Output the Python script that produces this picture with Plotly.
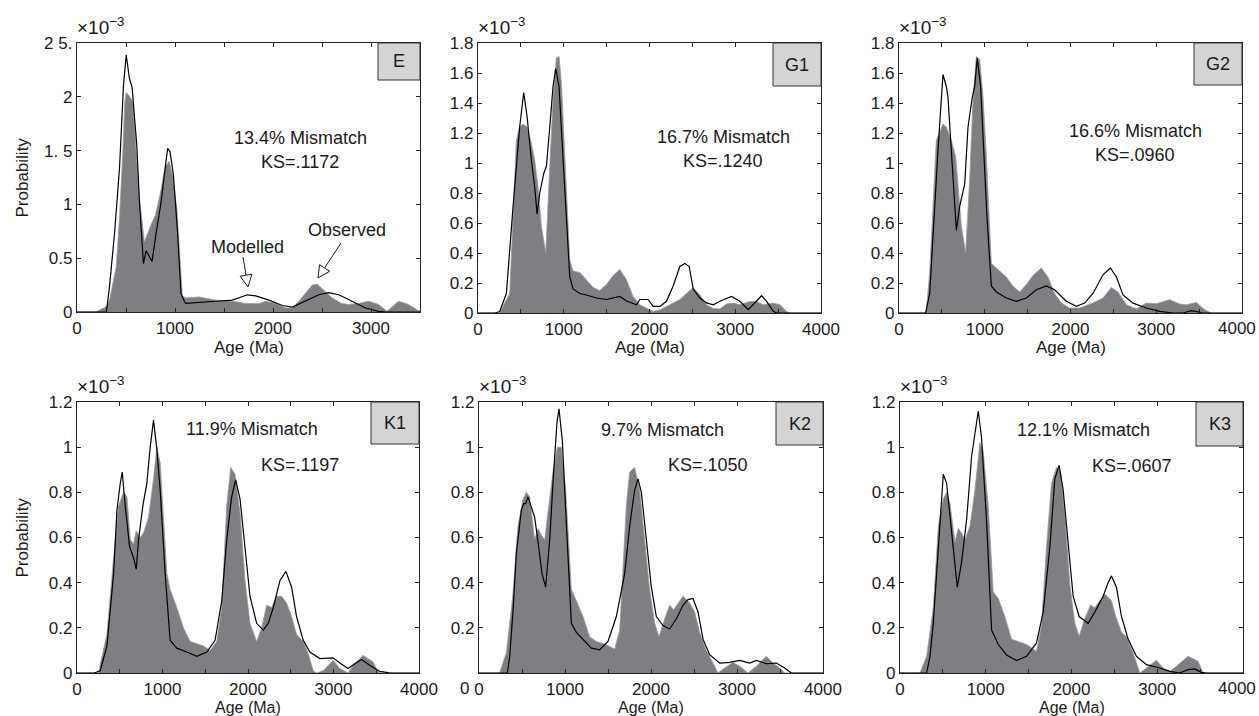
import plotly.graph_objects as go

W, H = 1259, 716

# ---------------- data (probability, x10^-3) ----------------
E_obs_age = [0, 190, 300, 332, 400, 434, 468, 488, 502, 540, 570, 603, 637, 688, 750, 800, 850, 900, 940, 980, 1020, 1050, 1075, 1111, 1247, 1417, 1586, 1722, 1858, 1925, 2027, 2129, 2197, 2264, 2332, 2400, 2451, 2519, 2603, 2700, 2773, 2875, 2976, 3078, 3163, 3281, 3383, 3468, 3500]
E_obs_p = [0, 0, 0.05, 0.11, 0.42, 0.88, 1.49, 1.95, 2.04, 2.0, 1.95, 1.55, 1.05, 0.65, 0.8, 0.9, 1.1, 1.35, 1.4, 1.25, 0.95, 0.5, 0.15, 0.13, 0.14, 0.11, 0.1, 0.08, 0.077, 0.1, 0.08, 0.037, 0.037, 0.1, 0.17, 0.25, 0.26, 0.2, 0.13, 0.08, 0.07, 0.08, 0.1, 0.07, 0.006, 0.1, 0.07, 0.02, 0.01]
E_mod_age = [0, 300, 332, 383, 434, 474, 502, 535, 562, 586, 610, 637, 678, 705, 732, 766, 807, 858, 908, 925, 949, 983, 1027, 1061, 1095, 1111, 1417, 1586, 1739, 1824, 1959, 2095, 2197, 2332, 2468, 2569, 2671, 2807, 2942, 3078, 3146, 3500]
E_mod_p = [0, 0, 0.24, 0.73, 1.34, 2.1, 2.39, 2.17, 2.09, 1.85, 1.55, 1.03, 0.45, 0.57, 0.53, 0.47, 0.73, 1.02, 1.4, 1.52, 1.49, 1.28, 0.73, 0.17, 0.1, 0.08, 0.1, 0.11, 0.16, 0.15, 0.11, 0.06, 0.046, 0.1, 0.16, 0.18, 0.16, 0.1, 0.037, 0.006, 0, 0]

G1_obs_age = [0, 250, 370, 447, 486, 525, 572, 623, 661, 700, 739, 790, 837, 875, 914, 945, 973, 1012, 1070, 1109, 1187, 1265, 1342, 1420, 1498, 1576, 1654, 1732, 1809, 1887, 1965, 2043, 2121, 2237, 2354, 2432, 2510, 2588, 2665, 2743, 2821, 2899, 2977, 3054, 3171, 3249, 3327, 3444, 3521, 3599, 3638, 4000]
G1_obs_p = [0, 0, 0.13, 1.15, 1.24, 1.26, 1.24, 1.13, 1.02, 0.84, 0.58, 0.4, 0.98, 1.42, 1.7, 1.71, 1.53, 1.09, 0.35, 0.28, 0.27, 0.22, 0.17, 0.15, 0.19, 0.25, 0.29, 0.22, 0.11, 0.055, 0.03, 0.01, 0.02, 0.055, 0.09, 0.13, 0.17, 0.12, 0.055, 0.03, 0.027, 0.06, 0.066, 0.055, 0.077, 0.077, 0.055, 0.066, 0.055, 0.01, 0, 0]
G1_mod_age = [0, 200, 253, 331, 409, 486, 533, 572, 623, 661, 689, 720, 767, 798, 837, 875, 906, 945, 984, 1031, 1070, 1109, 1187, 1265, 1381, 1498, 1654, 1732, 1848, 1887, 1984, 2043, 2121, 2198, 2276, 2354, 2412, 2463, 2510, 2588, 2665, 2743, 2821, 2957, 3054, 3152, 3210, 3307, 3366, 3444, 3482, 4000]
G1_mod_p = [0, 0, 0.01, 0.13, 0.71, 1.24, 1.47, 1.31, 1.02, 0.84, 0.66, 0.8, 0.93, 0.98, 1.24, 1.51, 1.63, 1.51, 1.11, 0.64, 0.24, 0.16, 0.13, 0.12, 0.1, 0.09, 0.11, 0.08, 0.055, 0.09, 0.09, 0.044, 0.044, 0.078, 0.18, 0.31, 0.33, 0.31, 0.16, 0.1, 0.067, 0.055, 0.078, 0.11, 0.078, 0.022, 0.055, 0.115, 0.078, 0.011, 0, 0]

G2_obs_age = [0, 300, 319, 358, 435, 513, 552, 610, 661, 688, 727, 777, 824, 863, 902, 941, 980, 1019, 1077, 1174, 1252, 1329, 1407, 1485, 1563, 1660, 1737, 1815, 1893, 1990, 2107, 2262, 2379, 2476, 2554, 2651, 2768, 2884, 3001, 3156, 3273, 3350, 3467, 3564, 3642, 4000]
G2_obs_p = [0, 0, 0.02, 0.27, 1.15, 1.26, 1.24, 1.15, 1.04, 0.84, 0.58, 0.4, 0.89, 1.42, 1.71, 1.69, 1.44, 1.04, 0.33, 0.28, 0.24, 0.18, 0.14, 0.19, 0.25, 0.3, 0.24, 0.13, 0.067, 0.033, 0.033, 0.067, 0.1, 0.17, 0.14, 0.055, 0.027, 0.066, 0.062, 0.089, 0.06, 0.055, 0.07, 0.022, 0, 0]
G2_mod_age = [0, 310, 358, 396, 455, 513, 552, 571, 610, 641, 669, 707, 766, 805, 855, 882, 913, 952, 987, 1026, 1077, 1135, 1252, 1368, 1485, 1602, 1718, 1815, 1951, 2068, 2165, 2262, 2379, 2465, 2535, 2612, 2729, 2884, 3040, 3196, 3312, 3409, 3487, 3525, 4000]
G2_mod_p = [0, 0, 0.13, 0.53, 1.09, 1.59, 1.51, 1.44, 1.09, 0.75, 0.55, 0.71, 0.86, 1.24, 1.44, 1.51, 1.7, 1.51, 1.09, 0.64, 0.18, 0.14, 0.1, 0.078, 0.1, 0.155, 0.18, 0.155, 0.078, 0.044, 0.066, 0.13, 0.255, 0.3, 0.24, 0.12, 0.066, 0.033, 0.011, 0, 0, 0.016, 0.007, 0, 0]

K1_obs_age = [0, 253, 272, 350, 428, 486, 545, 584, 623, 661, 693, 739, 778, 837, 895, 934, 973, 1012, 1051, 1089, 1167, 1245, 1323, 1401, 1479, 1556, 1634, 1693, 1751, 1798, 1848, 1907, 1965, 2023, 2101, 2160, 2218, 2276, 2335, 2393, 2451, 2510, 2568, 2646, 2704, 2763, 2802, 2879, 2996, 3074, 3171, 3230, 3346, 3463, 3521, 3560, 4000]
K1_obs_p = [0, 0, 0.04, 0.17, 0.51, 0.74, 0.8, 0.78, 0.59, 0.57, 0.63, 0.6, 0.62, 0.69, 0.86, 1.0, 0.93, 0.66, 0.44, 0.37, 0.29, 0.2, 0.14, 0.13, 0.12, 0.1, 0.14, 0.29, 0.74, 0.91, 0.88, 0.71, 0.41, 0.22, 0.14, 0.2, 0.3, 0.29, 0.34, 0.34, 0.31, 0.25, 0.17, 0.14, 0.086, 0.01, 0, 0.01, 0.056, 0.02, 0, 0.034, 0.078, 0.049, 0.004, 0, 0]
K1_mod_age = [0, 200, 272, 350, 428, 467, 506, 529, 564, 615, 661, 693, 720, 770, 817, 856, 895, 934, 973, 1031, 1089, 1167, 1284, 1401, 1518, 1615, 1693, 1751, 1809, 1856, 1907, 1965, 2023, 2101, 2179, 2237, 2296, 2374, 2444, 2510, 2568, 2646, 2724, 2840, 2996, 3074, 3171, 3249, 3327, 3424, 3541, 3619, 3658, 4000]
K1_mod_p = [0, 0, 0.01, 0.12, 0.44, 0.72, 0.84, 0.89, 0.74, 0.56, 0.51, 0.46, 0.59, 0.74, 0.84, 1.0, 1.12, 0.99, 0.81, 0.44, 0.145, 0.11, 0.093, 0.074, 0.093, 0.145, 0.32, 0.59, 0.78, 0.855, 0.77, 0.54, 0.34, 0.22, 0.19, 0.22, 0.29, 0.41, 0.45, 0.38, 0.25, 0.145, 0.093, 0.064, 0.067, 0.044, 0.02, 0.041, 0.06, 0.034, 0.007, 0.003, 0, 0]

K2_obs_age = [0, 240, 318, 395, 453, 512, 550, 589, 647, 686, 725, 764, 802, 860, 911, 957, 1008, 1074, 1132, 1209, 1287, 1364, 1481, 1578, 1636, 1674, 1713, 1752, 1810, 1868, 1926, 1984, 2043, 2093, 2159, 2217, 2264, 2314, 2372, 2450, 2508, 2566, 2643, 2721, 2779, 2857, 2953, 3031, 3128, 3225, 3341, 3419, 3496, 3554, 4000]
K2_obs_p = [0, 0, 0.09, 0.35, 0.65, 0.77, 0.8, 0.78, 0.59, 0.64, 0.61, 0.59, 0.71, 0.89, 1.0, 1.0, 0.81, 0.37, 0.32, 0.25, 0.16, 0.14, 0.125, 0.106, 0.19, 0.44, 0.74, 0.89, 0.91, 0.81, 0.59, 0.37, 0.22, 0.16, 0.24, 0.3, 0.28, 0.31, 0.34, 0.31, 0.27, 0.18, 0.1, 0.044, 0, 0.022, 0.047, 0.03, 0, 0.03, 0.074, 0.044, 0.022, 0, 0]
K2_mod_age = [0, 330, 357, 395, 434, 492, 519, 543, 570, 609, 647, 686, 733, 775, 822, 868, 907, 930, 969, 1016, 1074, 1132, 1209, 1306, 1403, 1500, 1597, 1694, 1752, 1810, 1849, 1888, 1946, 2004, 2062, 2140, 2217, 2295, 2372, 2430, 2488, 2547, 2605, 2682, 2798, 2915, 3031, 3147, 3225, 3341, 3457, 3554, 3631, 4000]
K2_mod_p = [0, 0, 0.074, 0.27, 0.53, 0.72, 0.75, 0.75, 0.78, 0.73, 0.69, 0.58, 0.44, 0.38, 0.59, 0.89, 1.11, 1.17, 1.03, 0.66, 0.22, 0.18, 0.15, 0.11, 0.103, 0.14, 0.25, 0.44, 0.65, 0.81, 0.86, 0.8, 0.59, 0.38, 0.25, 0.21, 0.195, 0.24, 0.3, 0.325, 0.33, 0.27, 0.15, 0.081, 0.044, 0.047, 0.056, 0.044, 0.056, 0.041, 0.044, 0.022, 0, 0]

K3_obs_age = [0, 233, 311, 388, 447, 505, 544, 583, 641, 680, 718, 757, 816, 874, 932, 971, 1029, 1087, 1146, 1223, 1301, 1379, 1476, 1592, 1650, 1709, 1767, 1825, 1872, 1922, 1981, 2039, 2089, 2155, 2221, 2272, 2330, 2388, 2466, 2517, 2583, 2641, 2718, 2796, 2874, 2990, 3068, 3146, 3223, 3359, 3476, 3534, 4000]
K3_obs_p = [0, 0, 0.074, 0.29, 0.65, 0.77, 0.8, 0.75, 0.58, 0.64, 0.62, 0.59, 0.65, 0.81, 1.02, 0.98, 0.74, 0.36, 0.33, 0.25, 0.15, 0.14, 0.126, 0.096, 0.21, 0.56, 0.84, 0.91, 0.89, 0.7, 0.39, 0.22, 0.163, 0.24, 0.3, 0.29, 0.32, 0.35, 0.32, 0.25, 0.18, 0.16, 0.09, 0, 0.022, 0.056, 0.022, 0.007, 0.03, 0.074, 0.052, 0, 0]
K3_mod_age = [0, 310, 350, 388, 427, 466, 505, 544, 583, 621, 668, 718, 777, 835, 874, 913, 951, 1010, 1068, 1146, 1243, 1359, 1476, 1592, 1670, 1748, 1806, 1856, 1903, 1961, 2019, 2089, 2194, 2272, 2369, 2427, 2466, 2524, 2583, 2660, 2757, 2874, 3029, 3146, 3262, 3359, 3437, 3515, 3573, 4000]
K3_mod_p = [0, 0, 0.074, 0.22, 0.44, 0.67, 0.88, 0.84, 0.7, 0.58, 0.38, 0.49, 0.68, 0.96, 1.05, 1.16, 1.04, 0.67, 0.19, 0.126, 0.08, 0.055, 0.074, 0.133, 0.27, 0.56, 0.86, 0.92, 0.81, 0.56, 0.34, 0.25, 0.22, 0.27, 0.34, 0.4, 0.43, 0.38, 0.25, 0.15, 0.074, 0.037, 0.022, 0.007, 0, 0.015, 0.018, 0.003, 0, 0]

panel_names = ["E", "G1", "G2", "K1", "K2", "K3"]
mismatch_text = ["13.4% Mismatch", "16.7% Mismatch", "16.6% Mismatch", "11.9% Mismatch", "9.7% Mismatch", "12.1% Mismatch"]
ks_text = ["KS=.1172", "KS=.1240", "KS=.0960", "KS=.1197", "KS=.1050", "KS=.0607"]
x_max = [3500, 4000, 4000, 4000, 4000, 4000]
y_max = [2.5, 1.8, 1.8, 1.2, 1.2, 1.2]
E_yticks = [0, 0.5, 1, 1.5, 2, 2.5]
E_yticktext = ["0", "0.5", "1", "1. 5", "2", "2 5."]
G_yticks = [0, 0.2, 0.4, 0.6, 0.8, 1, 1.2, 1.4, 1.6, 1.8]
K_yticks = [0, 0.2, 0.4, 0.6, 0.8, 1, 1.2]
K2_yticks = [0.2, 0.4, 0.6, 0.8, 1, 1.2]

obs = [(E_obs_age, E_obs_p), (G1_obs_age, G1_obs_p), (G2_obs_age, G2_obs_p),
       (K1_obs_age, K1_obs_p), (K2_obs_age, K2_obs_p), (K3_obs_age, K3_obs_p)]
mod = [(E_mod_age, E_mod_p), (G1_mod_age, G1_mod_p), (G2_mod_age, G2_mod_p),
       (K1_mod_age, K1_mod_p), (K2_mod_age, K2_mod_p), (K3_mod_age, K3_mod_p)]

# ---------------- layout geometry (pixels) ----------------
boxes = [(77, 420, 43, 312), (478, 821, 43, 313), (899, 1242, 43, 313),
         (77, 419, 402, 673), (479, 823, 402, 673), (900, 1243, 402, 673)]
label_boxes = [(378, 420, 43, 80), (773, 821, 43, 86), (1194, 1242, 43, 85),
               (371, 419, 402, 444), (776, 823, 402, 445), (1196, 1243, 402, 446)]
mis_pos = [(300, 138), (723, 137), (1135, 131), (252, 429), (662, 430), (1083, 430)]
ks_pos = [(300, 162), (723, 161), (1135, 155), (300, 465), (708, 465), (1132, 466)]
xtitle_y = [347, 347, 347, 707, 707, 707]
xtitle_size = [17, 17, 17, 16, 16, 16]
edge_panels = [2, 5]   # panels whose last x label touches the right page edge


def fx(px):
    return px / W


def fy(py):
    return 1 - py / H


FONT = "Liberation Sans, Arial, sans-serif"
TXT = "#1a1a1a"
fig = go.Figure()
layout = dict(width=W, height=H, margin=dict(l=0, r=0, t=0, b=0, autoexpand=False),
              paper_bgcolor="white", plot_bgcolor="white", showlegend=False,
              font=dict(family=FONT, size=17, color=TXT))
annotations = []
shapes = []

for i in range(6):
    L, R, T, B = boxes[i]
    xa = "xaxis" if i == 0 else f"xaxis{i+1}"
    ya = "yaxis" if i == 0 else f"yaxis{i+1}"
    xr = "x" if i == 0 else f"x{i+1}"
    yr = "y" if i == 0 else f"y{i+1}"
    xtv = list(range(0, x_max[i] + 1, 1000))
    if i in edge_panels:
        xtv = xtv[:-1]
    if i == 0:
        ytv, ytt = E_yticks, E_yticktext
    elif i < 3:
        ytv, ytt = G_yticks, [f"{v:g}" for v in G_yticks]
    elif i == 4:
        ytv, ytt = K2_yticks, [f"{v:g}" for v in K2_yticks]
    else:
        ytv, ytt = K_yticks, [f"{v:g}" for v in K_yticks]
    layout[xa] = dict(domain=[fx(L), fx(R)], anchor=yr, range=[0, x_max[i]], automargin=False,
                      tickvals=xtv, ticktext=[str(v) for v in xtv], ticks="inside", ticklen=4,
                      tickcolor="#222", showline=True, linecolor="#222", linewidth=1.3,
                      mirror="ticks", showgrid=False, zeroline=False,
                      minor=dict(ticks="inside", ticklen=4, tickcolor="#222", dtick=500,
                                 tick0=0, showgrid=False),
                      tickfont=dict(size=17, family=FONT, color=TXT))
    layout[ya] = dict(domain=[fy(B), fy(T)], anchor=xr, range=[0, y_max[i]], automargin=False,
                      tickvals=ytv, ticktext=ytt, ticks="inside", ticklen=4,
                      tickcolor="#222", showline=True, linecolor="#222", linewidth=1.3,
                      mirror="ticks", showgrid=False, zeroline=False,
                      tickfont=dict(size=17, family=FONT, color=TXT))

    fig.add_trace(go.Scatter(x=obs[i][0], y=obs[i][1], mode="lines", fill="tozeroy",
                             fillcolor="#7e7f82", line=dict(color="#9a9a9c", width=0.8),
                             xaxis=xr, yaxis=yr, hoverinfo="skip"))
    fig.add_trace(go.Scatter(x=mod[i][0], y=mod[i][1], mode="lines",
                             line=dict(color="black", width=1.2),
                             xaxis=xr, yaxis=yr, hoverinfo="skip"))

    # last x label at the page edge (would be clipped as a tick label)
    if i in edge_panels:
        annotations.append(dict(text=str(x_max[i]), xref="paper", yref="paper",
                                x=fx(W - 1), y=fy(B + 15), showarrow=False,
                                font=dict(size=17), xanchor="right", yanchor="middle"))

    # panel label box
    lx0, lx1, ly0, ly1 = label_boxes[i]
    shapes.append(dict(type="rect", xref="paper", yref="paper",
                       x0=fx(lx0), x1=fx(lx1), y0=fy(ly1), y1=fy(ly0),
                       fillcolor="#d4d4d4", line=dict(color="#333", width=1)))
    annotations.append(dict(text=panel_names[i], xref="paper", yref="paper",
                            x=fx((lx0 + lx1) / 2), y=fy((ly0 + ly1) / 2),
                            showarrow=False, font=dict(size=18), xanchor="center", yanchor="middle"))
    # mismatch texts
    annotations.append(dict(text=mismatch_text[i], xref="paper", yref="paper",
                            x=fx(mis_pos[i][0]), y=fy(mis_pos[i][1]), showarrow=False,
                            font=dict(size=18), xanchor="center", yanchor="middle"))
    annotations.append(dict(text=ks_text[i], xref="paper", yref="paper",
                            x=fx(ks_pos[i][0]), y=fy(ks_pos[i][1]), showarrow=False,
                            font=dict(size=18), xanchor="center", yanchor="middle"))
    # exponent
    annotations.append(dict(text="×10<sup>−3</sup>", xref="paper", yref="paper",
                            x=fx(L - 2), y=fy(T - 3), showarrow=False,
                            font=dict(size=19), xanchor="left", yanchor="bottom"))
    # x title
    annotations.append(dict(text="Age (Ma)", xref="paper", yref="paper",
                            x=fx((L + R) / 2), y=fy(xtitle_y[i]), showarrow=False,
                            font=dict(size=xtitle_size[i]), xanchor="center", yanchor="middle"))

# y titles
for (L, R, T, B) in [boxes[0], boxes[3]]:
    annotations.append(dict(text="Probability", xref="paper", yref="paper",
                            x=fx(22), y=fy((T + B) / 2), showarrow=False, textangle=-90,
                            font=dict(size=17), xanchor="center", yanchor="middle"))

# stray "0" y-label of panel K2 (drawn at the tick-label row)
annotations.append(dict(text="0", xref="paper", yref="paper", x=fx(464), y=fy(688),
                        showarrow=False, font=dict(size=17), xanchor="center", yanchor="middle"))

# Modelled / Observed callouts with open triangular heads
annotations.append(dict(text="Modelled", xref="paper", yref="paper", x=fx(247), y=fy(247),
                        showarrow=False, font=dict(size=18), xanchor="center", yanchor="middle"))
annotations.append(dict(text="Observed", xref="paper", yref="paper", x=fx(347), y=fy(230),
                        showarrow=False, font=dict(size=18), xanchor="center", yanchor="middle"))


def callout(start, tip, length=12, half=6):
    sx, sy = start
    tx, ty = tip
    dx, dy = tx - sx, ty - sy
    n = (dx * dx + dy * dy) ** 0.5
    ux, uy = dx / n, dy / n
    bx, by = tx - length * ux, ty - length * uy
    px_, py_ = -uy * half, ux * half
    shapes.append(dict(type="line", xref="paper", yref="paper",
                       x0=fx(sx), y0=fy(sy), x1=fx(bx), y1=fy(by),
                       line=dict(color=TXT, width=1)))
    path = (f"M {fx(tx)},{fy(ty)} L {fx(bx + px_)},{fy(by + py_)} "
            f"L {fx(bx - px_)},{fy(by - py_)} Z")
    shapes.append(dict(type="path", xref="paper", yref="paper", path=path,
                       fillcolor="white", line=dict(color=TXT, width=1)))


callout((243, 257), (248, 287))
callout((341, 243), (318, 278))

layout["annotations"] = annotations
layout["shapes"] = shapes
fig.update_layout(**layout)
fig.write_html("out.html", config={"displayModeBar": False},
               post_script="document.body.style.margin='0';document.body.style.overflow='hidden';")
